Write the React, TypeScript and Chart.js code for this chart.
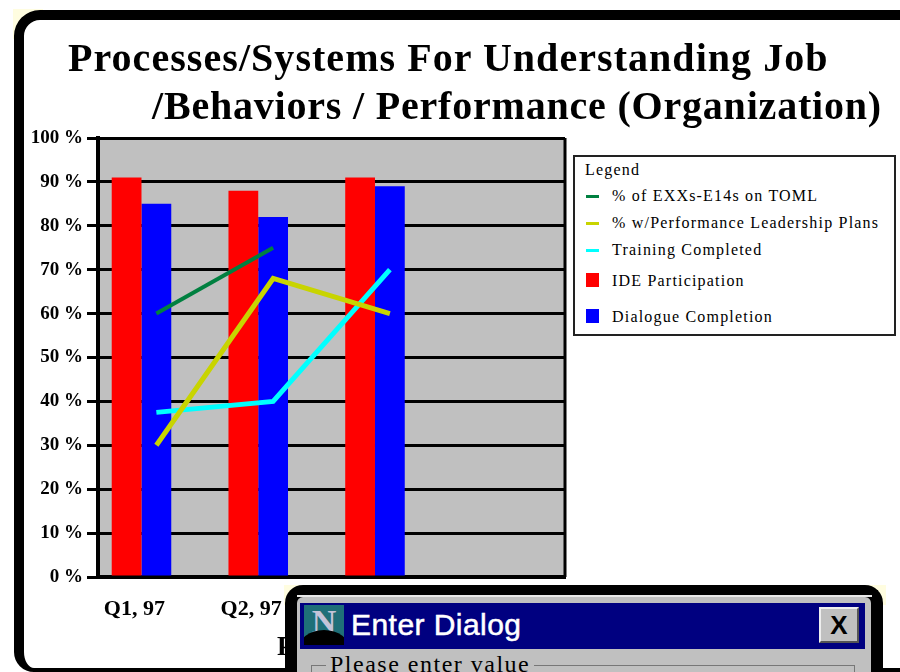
import React, { useEffect, useRef } from "react";
import { Chart, registerables } from "chart.js";

Chart.register(...registerables);

const categories = ["Q1, 97", "Q2, 97", "Q3, 97", "Q4, 97"];
const ideParticipation = [91, 88, 91, null];
const dialogueCompletion = [85, 82, 89, null];
const emptyBarSeries = [null, null, null, null];
const examsOnToml = [60, 75, null, null];
const performancePlans = [30, 68, 60, null];
const trainingCompleted = [37.5, 40, 70, null];
const titleLines = ["Processes/Systems For Understanding Job", "/Behaviors / Performance (Organization)"];
const legendLines = [
  { label: "% of EXXs-E14s on TOML", color: "#008040", kind: "line" },
  { label: "% w/Performance Leadership Plans", color: "#c8d400", kind: "line" },
  { label: "Training Completed", color: "#00ffff", kind: "line" },
  { label: "IDE Participation", color: "#ff0000", kind: "box" },
  { label: "Dialogue Completion", color: "#0000ff", kind: "box" },
];
const legendY = [196, 223, 250, 281, 317];

const serif = '"Liberation Serif", "Times New Roman", serif';

const plotFrame = {
  id: "plotFrame",
  beforeDraw(c: any) {
    const { ctx, chartArea: a } = c;
    ctx.save();
    ctx.fillStyle = "#c0c0c0";
    ctx.fillRect(a.left, a.top, a.right - a.left, a.bottom - a.top);
    ctx.restore();
  },
  afterDatasetsDraw(c: any) {
    const { ctx, chartArea: a } = c;
    ctx.save();
    ctx.strokeStyle = "#000";
    ctx.lineWidth = 3;
    ctx.beginPath();
    ctx.moveTo(a.right, a.top);
    ctx.lineTo(a.right, a.bottom);
    ctx.stroke();
    ctx.restore();
  },
};

const abs = (left: number, top: number, width: number, height: number, extra: any = {}) => ({
  position: "absolute" as const,
  left,
  top,
  width,
  height,
  boxSizing: "border-box" as const,
  ...extra,
});

export default function App() {
  const ref = useRef<HTMLCanvasElement>(null);
  useEffect(() => {
    const chart = new Chart(ref.current!, {
      type: "bar",
      plugins: [plotFrame],
      data: {
        labels: categories,
        datasets: [
          { type: "line", label: legendLines[0].label, data: examsOnToml, borderColor: "#008040", borderWidth: 4, pointRadius: 0, order: 3 },
          { type: "line", label: legendLines[1].label, data: performancePlans, borderColor: "#c8d400", borderWidth: 5, pointRadius: 0, order: 1 },
          { type: "line", label: legendLines[2].label, data: trainingCompleted, borderColor: "#00ffff", borderWidth: 5, pointRadius: 0, order: 2 },
          { type: "bar", label: legendLines[3].label, data: ideParticipation, backgroundColor: "#ff0000", order: 4 },
          { type: "bar", label: legendLines[4].label, data: dialogueCompletion, backgroundColor: "#0000ff", order: 5 },
          { type: "bar", label: "", data: emptyBarSeries, backgroundColor: "#ffff00", order: 6 },
        ] as any,
      },
      options: {
        animation: false,
        responsive: false,
        datasets: { bar: { categoryPercentage: 0.765, barPercentage: 1 } },
        layout: { padding: { top: 138, right: 335, left: 0, bottom: 0 } },
        plugins: { legend: { display: false }, title: { display: false }, tooltip: { enabled: false } },
        scales: {
          x: {
            afterFit: (s: any) => { s.height = 95; },
            grid: { display: false, drawTicks: false },
            border: { color: "#000", width: 4 },
            ticks: {
              color: "#000",
              font: { family: serif, size: 22, weight: "bold" },
              padding: 19,
              labelOffset: -22,
              maxRotation: 0,
              autoSkip: false,
            },
          },
          y: {
            min: 0,
            max: 100,
            afterFit: (s: any) => { s.width = 98; },
            grid: { color: "#000", lineWidth: 3, tickLength: 11 },
            border: { color: "#000", width: 4 },
            ticks: {
              stepSize: 10,
              color: "#000",
              padding: 4,
              font: { family: serif, size: 19, weight: "bold" },
              callback: (v: any) => `${v} %`,
            },
          },
        },
      } as any,
    });
    return () => chart.destroy();
  }, []);

  return (
    <div style={abs(0, 0, 900, 672, { position: "fixed", overflow: "hidden", background: "#fff" })}>
      <div style={abs(13, 9, 30, 30, { background: "#fffde0" })} />
      <div style={abs(14, 10, 960, 662, { background: "#fff", borderStyle: "solid", borderColor: "#000", borderWidth: "10px 10px 4px 10px", borderRadius: "26px 0 0 20px" })} />
      <canvas ref={ref} width={900} height={672} style={abs(0, 0, 900, 672, { display: "block" })} />
      <div style={{ position: "absolute", left: 68, top: 34, font: `bold 40px ${serif}`, whiteSpace: "nowrap", color: "#000", letterSpacing: 1.05 }}>{titleLines[0]}</div>
      <div style={{ position: "absolute", left: 152, top: 82, font: `bold 40px ${serif}`, whiteSpace: "nowrap", color: "#000", letterSpacing: 0.8 }}>{titleLines[1]}</div>

      <div style={abs(573, 155, 323, 181, { border: "2px solid #222", background: "#fff" })} />
      <div style={{ position: "absolute", left: 585, top: 161, font: `16px ${serif}`, color: "#000", letterSpacing: 1.2 }}>Legend</div>
      {legendLines.map((l, i) => (
        <React.Fragment key={l.label}>
          <div style={l.kind === "line"
            ? abs(586, legendY[i] - 1, 13, 3, { background: l.color })
            : abs(586, legendY[i] - 8, 13, 14, { background: l.color })} />
          <div style={{ position: "absolute", left: 612, top: legendY[i] - 9, font: `16px ${serif}`, color: "#000", whiteSpace: "nowrap", letterSpacing: 1.2 }}>{l.label}</div>
        </React.Fragment>
      ))}

      <div style={{ position: "absolute", left: 277, top: 631, font: `bold 27px ${serif}`, color: "#000" }}>P</div>

      <div style={abs(284, 585, 602, 20, { background: "#fffde0" })} />
      <div style={abs(285, 585, 598, 100, { background: "#c0c0c0", border: "12px solid #000", borderBottomWidth: 0, borderRadius: "18px 18px 0 0" })} />
      <div style={abs(297, 595, 575, 2, { background: "#e8e8e8" })} />
      <div style={abs(300, 603, 565, 46, { background: "#000080" })} />
      <div style={abs(304, 605, 40, 40, { background: "#1f6f78", overflow: "hidden", color: "#c4c4d8", font: `bold 34px ${serif}`, textAlign: "center", lineHeight: "34px" })}>
        N
        <div style={abs(-6, 25, 52, 40, { background: "#000", borderRadius: "50%" })} />
      </div>
      <div style={{ position: "absolute", left: 351, top: 608, font: '30px "Liberation Sans", Arial, sans-serif', color: "#fff", whiteSpace: "nowrap", WebkitTextStroke: "0.5px #fff", letterSpacing: 0.45 }}>Enter Dialog</div>
      <div style={abs(819, 607, 40, 36, { background: "#c0c0c0", borderTop: "2px solid #eee", borderLeft: "2px solid #eee", borderRight: "2px solid #555", borderBottom: "2px solid #555", color: "#000", font: 'bold 26px "Liberation Sans", Arial, sans-serif', textAlign: "center", lineHeight: "32px" })}>X</div>
      <div style={abs(311, 665, 544, 20, { border: "1px solid #777", borderBottomWidth: 0 })} />
      <div style={{ position: "absolute", left: 326, top: 651, font: `24px ${serif}`, color: "#000", background: "#c0c0c0", padding: "0 4px", whiteSpace: "nowrap", letterSpacing: 1.5 }}>Please enter value</div>
    </div>
  );
}
